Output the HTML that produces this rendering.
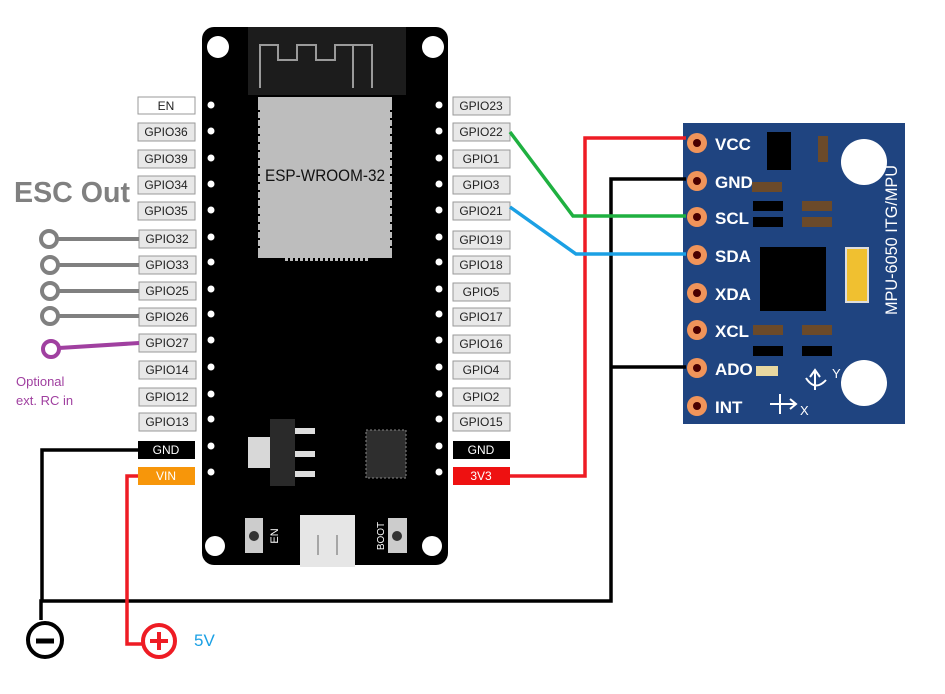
<!DOCTYPE html>
<html><head><style>html,body{margin:0;padding:0;background:#fff;}svg{display:block}</style></head><body>
<svg width="945" height="694" viewBox="0 0 945 694" xmlns="http://www.w3.org/2000/svg" font-family="Liberation Sans, sans-serif">
<rect width="945" height="694" fill="#fff"/>
<!-- ESP board -->
<rect x="202" y="27" width="246" height="538" rx="12" fill="#000"/>
<rect x="248" y="27" width="158" height="68" fill="#1c1c1c"/>
<path d="M260 88 V45 H278 V60 H297 V45 H316 V60 H335 V45 H372 V88 M353 45 V88" stroke="#9a9a9a" stroke-width="2" fill="none"/>
<rect x="258" y="97" width="134" height="161" fill="#bdbdbd"/>
<path d="M259 110 V250 M391 110 V250" stroke="#000" stroke-width="2" stroke-dasharray="2 6"/>
<path d="M285 258 H370" stroke="#bdbdbd" stroke-width="6" stroke-dasharray="3 2"/>
<text x="325" y="181" font-size="17" text-anchor="middle" fill="#111" textLength="120" lengthAdjust="spacingAndGlyphs">ESP-WROOM-32</text>
<circle cx="218" cy="47" r="11" fill="#fff"/><circle cx="433" cy="47" r="11" fill="#fff"/>
<circle cx="215" cy="546" r="10" fill="#fff"/><circle cx="432" cy="546" r="10" fill="#fff"/>
<g fill="#fff">
<circle cx="211" cy="105" r="3.5"/><circle cx="211" cy="131" r="3.5"/><circle cx="211" cy="158" r="3.5"/><circle cx="211" cy="184" r="3.5"/><circle cx="211" cy="210" r="3.5"/><circle cx="211" cy="237" r="3.5"/><circle cx="211" cy="262" r="3.5"/><circle cx="211" cy="289" r="3.5"/><circle cx="211" cy="314" r="3.5"/><circle cx="211" cy="340" r="3.5"/><circle cx="211" cy="367" r="3.5"/><circle cx="211" cy="394" r="3.5"/><circle cx="211" cy="419" r="3.5"/><circle cx="211" cy="446" r="3.5"/><circle cx="211" cy="472" r="3.5"/>
<circle cx="439" cy="105" r="3.5"/><circle cx="439" cy="131" r="3.5"/><circle cx="439" cy="158" r="3.5"/><circle cx="439" cy="184" r="3.5"/><circle cx="439" cy="210" r="3.5"/><circle cx="439" cy="237" r="3.5"/><circle cx="439" cy="262" r="3.5"/><circle cx="439" cy="289" r="3.5"/><circle cx="439" cy="314" r="3.5"/><circle cx="439" cy="340" r="3.5"/><circle cx="439" cy="367" r="3.5"/><circle cx="439" cy="394" r="3.5"/><circle cx="439" cy="419" r="3.5"/><circle cx="439" cy="446" r="3.5"/><circle cx="439" cy="472" r="3.5"/>
</g>
<!-- regulator & chip -->
<rect x="248" y="437" width="22" height="31" fill="#d8d8d8"/>
<rect x="270" y="419" width="25" height="67" fill="#2a2a2a"/>
<rect x="295" y="428" width="20" height="6" fill="#ddd"/><rect x="295" y="451" width="20" height="6" fill="#ddd"/><rect x="295" y="471" width="20" height="6" fill="#ddd"/>
<rect x="366" y="430" width="40" height="48" fill="#2e2e2e" stroke="#888" stroke-dasharray="2 2"/>
<rect x="245" y="518" width="18" height="35" fill="#ccc"/><circle cx="254" cy="536" r="5" fill="#333"/>
<text transform="translate(278,536) rotate(-90)" font-size="11" fill="#fff" text-anchor="middle">EN</text>
<rect x="388" y="518" width="19" height="35" fill="#ccc"/><circle cx="397" cy="536" r="5" fill="#333"/>
<text transform="translate(384,536) rotate(-90)" font-size="10" fill="#fff" text-anchor="middle">BOOT</text>
<rect x="300" y="515" width="55" height="52" fill="#e6e6e6"/>
<line x1="318" y1="535" x2="318" y2="555" stroke="#666"/><line x1="337" y1="535" x2="337" y2="555" stroke="#666"/>
<!-- labels -->
<g font-size="12" text-anchor="middle">
<g fill="#e8e8e8" stroke="#999" stroke-width="1">
<rect x="138" y="97" width="57" height="17" fill="#fff"/>
<rect x="138" y="123" width="57" height="18"/><rect x="138" y="150" width="57" height="18"/><rect x="138" y="176" width="57" height="18"/><rect x="138" y="202" width="57" height="18"/><rect x="139" y="230" width="57" height="18"/><rect x="139" y="256" width="57" height="18"/><rect x="139" y="282" width="57" height="18"/><rect x="139" y="308" width="57" height="18"/><rect x="139" y="334" width="57" height="18"/><rect x="139" y="361" width="57" height="18"/><rect x="139" y="388" width="57" height="18"/><rect x="139" y="413" width="57" height="18"/>
<rect x="453" y="97" width="57" height="18"/><rect x="453" y="123" width="57" height="18"/><rect x="453" y="150" width="57" height="18"/><rect x="453" y="176" width="57" height="18"/><rect x="453" y="202" width="57" height="18"/><rect x="453" y="231" width="57" height="18"/><rect x="453" y="256" width="57" height="18"/><rect x="453" y="283" width="57" height="18"/><rect x="453" y="308" width="57" height="18"/><rect x="453" y="335" width="57" height="18"/><rect x="453" y="361" width="57" height="18"/><rect x="453" y="388" width="57" height="18"/><rect x="453" y="413" width="57" height="18"/>
</g>
<rect x="138" y="441" width="57" height="18" fill="#000"/><rect x="138" y="467" width="57" height="18" fill="#f7960a"/>
<rect x="453" y="441" width="57" height="18" fill="#000"/><rect x="453" y="467" width="57" height="18" fill="#ee1111"/>
<g fill="#222">
<text x="166" y="110">EN</text><text x="166" y="136">GPIO36</text><text x="166" y="163">GPIO39</text><text x="166" y="189">GPIO34</text><text x="166" y="215">GPIO35</text><text x="167" y="243">GPIO32</text><text x="167" y="269">GPIO33</text><text x="167" y="295">GPIO25</text><text x="167" y="321">GPIO26</text><text x="167" y="347">GPIO27</text><text x="167" y="374">GPIO14</text><text x="167" y="401">GPIO12</text><text x="167" y="426">GPIO13</text>
<text x="481" y="110">GPIO23</text><text x="481" y="136">GPIO22</text><text x="481" y="163">GPIO1</text><text x="481" y="189">GPIO3</text><text x="481" y="215">GPIO21</text><text x="481" y="244">GPIO19</text><text x="481" y="269">GPIO18</text><text x="481" y="296">GPIO5</text><text x="481" y="321">GPIO17</text><text x="481" y="348">GPIO16</text><text x="481" y="374">GPIO4</text><text x="481" y="401">GPIO2</text><text x="481" y="426">GPIO15</text>
</g>
<text x="166" y="454" fill="#fff">GND</text><text x="166" y="480" fill="#fff">VIN</text>
<text x="481" y="454" fill="#fff">GND</text><text x="481" y="480" fill="#fff">3V3</text>
</g>
<!-- MPU board -->
<rect x="683" y="123" width="222" height="301" fill="#1f4480"/>
<circle cx="864" cy="162" r="23" fill="#fff"/><circle cx="864" cy="383" r="23" fill="#fff"/>
<rect x="760" y="247" width="66" height="64" fill="#000"/>
<rect x="846" y="248" width="22" height="54" fill="#f0c030" stroke="#ddd" stroke-width="2"/>
<rect x="767" y="132" width="24" height="38" fill="#000"/>
<rect x="818" y="136" width="10" height="26" fill="#6b4a2a"/>
<rect x="752" y="182" width="30" height="10" fill="#6b4a2a"/>
<rect x="753" y="201" width="30" height="10" fill="#000"/><rect x="753" y="217" width="30" height="10" fill="#000"/>
<rect x="802" y="201" width="30" height="10" fill="#6b4a2a"/><rect x="802" y="217" width="30" height="10" fill="#6b4a2a"/>
<rect x="753" y="325" width="30" height="10" fill="#6b4a2a"/><rect x="802" y="325" width="30" height="10" fill="#6b4a2a"/>
<rect x="753" y="346" width="30" height="10" fill="#000"/><rect x="802" y="346" width="30" height="10" fill="#000"/>
<rect x="756" y="366" width="22" height="10" fill="#e8d8a0"/>
<text transform="translate(897,240) rotate(-90)" font-size="17" fill="#fff" text-anchor="middle" textLength="150" lengthAdjust="spacingAndGlyphs">MPU-6050 ITG/MPU</text>
<text x="800" y="415" font-size="13" fill="#fff">X</text><text x="832" y="378" font-size="13" fill="#fff">Y</text>
<path d="M770 404 H795 M790 399 L796 404 L790 409 M780 394 V414 M815 390 V372 M810 377 L815 370 L820 377 M806 378 Q815 392 826 380" stroke="#fff" stroke-width="2" fill="none"/>
<g font-size="17" fill="#fff" font-weight="bold">
<text x="715" y="150">VCC</text><text x="715" y="188">GND</text><text x="715" y="224">SCL</text><text x="715" y="262">SDA</text><text x="715" y="300">XDA</text><text x="715" y="337">XCL</text><text x="715" y="375">ADO</text><text x="715" y="413">INT</text>
</g>
<g fill="#f0945a"><circle cx="697" cy="143" r="10"/><circle cx="697" cy="181" r="10"/><circle cx="697" cy="217" r="10"/><circle cx="697" cy="255" r="10"/><circle cx="697" cy="293" r="10"/><circle cx="697" cy="330" r="10"/><circle cx="697" cy="368" r="10"/><circle cx="697" cy="406" r="10"/></g>
<g fill="#4a0000"><circle cx="697" cy="143" r="4"/><circle cx="697" cy="181" r="4"/><circle cx="697" cy="217" r="4"/><circle cx="697" cy="255" r="4"/><circle cx="697" cy="293" r="4"/><circle cx="697" cy="330" r="4"/><circle cx="697" cy="368" r="4"/><circle cx="697" cy="406" r="4"/></g>
<!-- wires -->
<g fill="none" stroke-width="3.5">
<path d="M510 476 H585 V138 H686" stroke="#ee1c24"/>
<path d="M686 179 H611 V601 H41 V620 M138 450 H42 V602" stroke="#000"/>
<path d="M686 367 H612" stroke="#000"/>
<path d="M510 132 L573 216 H686" stroke="#1fb040"/>
<path d="M510 207 L576 254 H686" stroke="#1ba0e4"/>
<path d="M138 476 H127 V644 H143" stroke="#ee1c24"/>
<path d="M139 239 H57 M139 265 H57 M139 291 H57 M139 316 H57" stroke="#808080" stroke-width="4"/>
<path d="M139 343 L59 348" stroke="#a040a0" stroke-width="4"/>
</g>
<g fill="none" stroke-width="4">
<circle cx="49" cy="239" r="8" stroke="#808080"/><circle cx="50" cy="265" r="8" stroke="#808080"/><circle cx="50" cy="291" r="8" stroke="#808080"/><circle cx="50" cy="316" r="8" stroke="#808080"/>
<circle cx="51" cy="349" r="8" stroke="#a040a0"/>
<circle cx="45" cy="640" r="17" stroke="#000"/>
<circle cx="159" cy="641" r="16" stroke="#ee1c24"/>
</g>
<path d="M36 641 H54" stroke="#000" stroke-width="5"/>
<path d="M150 641 H168 M159 632 V650" stroke="#ee1c24" stroke-width="4"/>
<text x="194" y="646" font-size="17" fill="#1ba0e4">5V</text>
<text x="14" y="202" font-size="29" font-weight="bold" fill="#808080" textLength="116" lengthAdjust="spacingAndGlyphs">ESC Out</text>
<text x="16" y="386" font-size="13" fill="#a040a0">Optional</text>
<text x="16" y="405" font-size="13" fill="#a040a0">ext. RC in</text>
</svg>
</body></html>
